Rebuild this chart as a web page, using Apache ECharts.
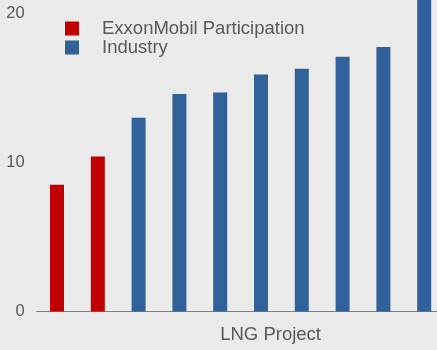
<!DOCTYPE html>
<html>
<head>
<meta charset="utf-8">
<script src="https://cdn.jsdelivr.net/npm/echarts@6/dist/echarts.min.js"></script>
<style>
html,body{margin:0;padding:0;background:#ebebeb;}
#c{width:437px;height:350px;}
</style>
</head>
<body>
<div id="c"></div>
<script>
var categories = ['P1','P2','P3','P4','P5','P6','P7','P8','P9','P10'];
var exxonValues = [8.5, 10.4, '-', '-', '-', '-', '-', '-', '-', '-'];
var industryValues = ['-', '-', 13.0, 14.6, 14.7, 15.9, 16.3, 17.1, 17.75, 22];
var seriesNames = ['ExxonMobil Participation', 'Industry'];
var xAxisName = 'LNG Project';
var yMin = 0, yMax = 30, yInterval = 10;

var font = 'Liberation Sans, Arial, sans-serif';
var chart = echarts.init(document.getElementById('c'), null, {renderer: 'canvas'});
chart.setOption({
  backgroundColor: '#ebebeb',
  animation: false,
  legend: {
    orient: 'vertical',
    left: 65,
    top: 19,
    padding: 0,
    itemGap: 0,
    itemWidth: 14,
    itemHeight: 14,
    icon: 'rect',
    data: seriesNames,
    textStyle: {
      fontFamily: font,
      fontSize: 18.5,
      color: '#595959',
      lineHeight: 19,
      padding: [0, 0, 0, 18]
    }
  },
  grid: {left: 36.6, width: 408, top: -135.5, bottom: 38.5, containLabel: false, outerBoundsMode: 'none'},
  xAxis: {
    type: 'category',
    data: categories,
    name: xAxisName,
    nameLocation: 'middle',
    nameGap: 14,
    nameTextStyle: {
      fontFamily: font,
      fontSize: 18.5,
      color: '#595959',
      padding: [0, 0, 0, 60]
    },
    axisLine: {lineStyle: {color: '#808080', width: 1}},
    axisTick: {show: false},
    axisLabel: {show: false}
  },
  yAxis: {
    type: 'value',
    min: yMin,
    max: yMax,
    interval: yInterval,
    axisLine: {show: false},
    axisTick: {show: false},
    splitLine: {show: false},
    axisLabel: {fontFamily: font, fontSize: 16.5, color: '#595959', margin: 12}
  },
  series: [
    {name: seriesNames[0], type: 'bar', data: exxonValues, barWidth: 14, barGap: '-100%',
     itemStyle: {color: '#c00000'}},
    {name: seriesNames[1], type: 'bar', data: industryValues, barWidth: 14, barGap: '-100%',
     itemStyle: {color: '#31619a'}}
  ]
});
</script>
</body>
</html>
